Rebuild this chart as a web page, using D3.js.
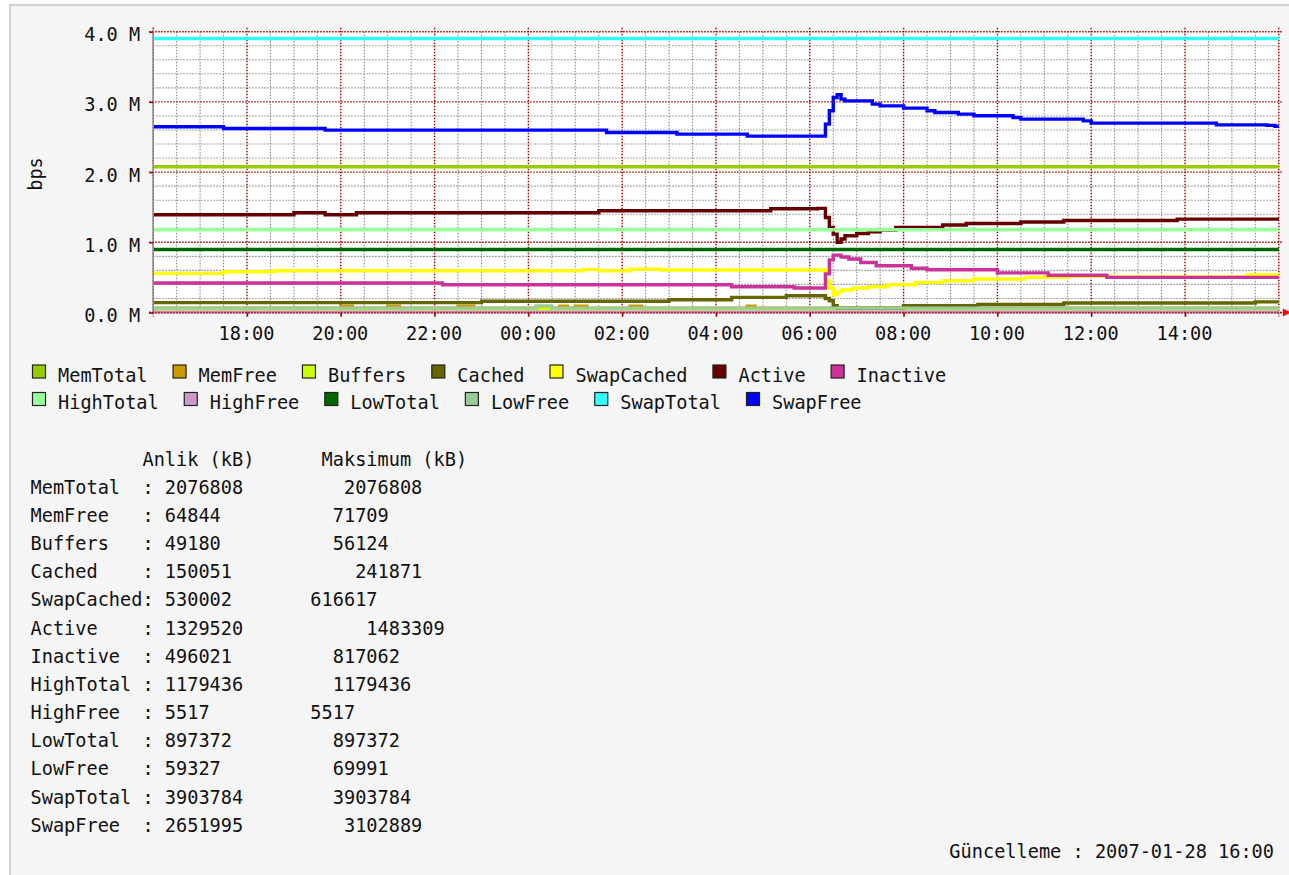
<!DOCTYPE html>
<html><head><meta charset="utf-8">
<script src="https://cdn.jsdelivr.net/npm/d3@7"></script>
<style>
html,body{margin:0;padding:0;background:#ffffff;}
svg{display:block;}
text{font-family:"DejaVu Sans Mono",monospace;font-size:18.6px;fill:#111;white-space:pre;}
</style></head><body>
<svg id="c" width="1289" height="875"></svg>
<script>
// ---------------- DATA ----------------
const seriesNames = ["MemTotal","MemFree","Buffers","Cached","SwapCached","Active","Inactive","HighTotal","HighFree","LowTotal","LowFree","SwapTotal","SwapFree"];
const seriesColors = ["#99cc00","#cc9900","#ccff00","#666600","#ffff00","#660000","#cc3399","#99ff99","#cc99cc","#006600","#99cc99","#33ffff","#0000ff"];
const currentKB = [2076808,64844,49180,150051,530002,1329520,496021,1179436,5517,897372,59327,3903784,2651995];
const maximumKB = [2076808,71709,56124,241871,616617,1483309,817062,1179436,5517,897372,69991,3903784,3102889];
const xTickLabels = ["18:00","20:00","22:00","00:00","02:00","04:00","06:00","08:00","10:00","12:00","14:00"];
const yTickValues = [0,1000000,2000000,3000000,4000000];
const updated = "2007-01-28 16:00";

// time series (time of day, kB); values hold until the next time (step)
const memTotal   = [["16:00",2076808]];
const memFree    = [["16:00",62000],["20:00",90000],["20:15",62000],["21:00",90000],["21:15",62000],["22:30",90000],["22:50",62000],["00:40",90000],["00:50",62000],["01:00",90000],["01:15",62000],["02:10",90000],["02:25",62000],["04:40",90000],["04:50",62000]];
const buffers    = [["16:00",50000]];
const cached     = [["16:00",140000],["23:00",160000],["03:00",182000],["04:20",215000],["05:30",239000],["06:20",200000],["06:25",168000],["06:30",97000],["06:35",60000],["08:00",97000],["09:35",115000],["11:25",135000],["15:30",152000]];
const swapCached = [["16:00",557000],["17:30",581000],["18:35",595000],["01:10",614000],["01:30",595000],["02:10",616000],["02:50",605000],["06:20",453000],["06:25",350000],["06:30",253000],["06:35",290000],["06:40",320000],["06:55",349000],["07:15",367000],["07:40",396000],["08:15",428000],["08:50",453000],["09:30",477000],["10:35",500000],["11:30",515000],["12:20",505000],["15:20",535000]];
const active     = [["16:00",1392000],["19:00",1421000],["19:40",1392000],["20:20",1421000],["01:30",1449000],["05:10",1477000],["06:10",1483000],["06:20",1354000],["06:25",1211000],["06:30",1117000],["06:35",1000000],["06:40",1046000],["06:45",1093000],["07:00",1126000],["07:15",1150000],["07:30",1175000],["07:50",1211000],["08:50",1246000],["09:20",1268000],["10:30",1290000],["11:25",1310000],["13:50",1330000]];
const inactive   = [["16:00",420000],["22:10",396000],["04:20",367000],["05:40",349000],["06:20",550000],["06:25",750000],["06:30",817000],["06:40",790000],["06:50",762000],["07:05",713000],["07:25",666000],["08:10",630000],["08:30",610000],["10:00",565000],["11:05",530000],["12:20",500000]];
const highTotal  = [["16:00",1179436]];
const highFree   = [["16:00",5517]];
const lowTotal   = [["16:00",897372]];
const lowFree    = [["16:00",62000],["00:10",95000],["00:30",62000]];
const swapTotal  = [["16:00",3903784]];
const swapFree   = [["16:00",2645000],["17:30",2621000],["19:40",2598000],["01:40",2564000],["03:10",2541000],["04:40",2512000],["06:20",2683000],["06:25",2873000],["06:30",3062000],["06:35",3103000],["06:40",3039000],["06:45",3015000],["07:20",2968000],["07:30",2944000],["08:00",2911000],["08:30",2873000],["08:40",2849000],["09:10",2826000],["09:30",2802000],["10:20",2778000],["10:30",2754000],["11:50",2730000],["12:00",2697000],["14:40",2673000],["15:45",2666000],["15:55",2652000]];
const seriesData = [memTotal,memFree,buffers,cached,swapCached,active,inactive,highTotal,highFree,lowTotal,lowFree,swapTotal,swapFree];

// ---------------- LAYOUT ----------------
const start = new Date(2007,0,27,16,0), end = new Date(2007,0,28,16,0);
function parseT(s){ const [h,m]=s.split(":").map(Number); return new Date(2007,0,h>=16?27:28,h,m); }

const svg = d3.select("#c");
svg.append("rect").attr("x",10).attr("y",5).attr("width",1300).attr("height",900)
  .attr("fill","#f5f5f5").attr("stroke","#d2d2d2").attr("stroke-width",2);

const x = d3.scaleTime().domain([start,end]).range([153.2,1278.8]);
const y = d3.scaleLinear().domain([0,4000000]).range([312.5,31.7]);
const [X0,X1] = x.range(), [Y0,Y1] = y.range();

svg.append("rect").attr("x",X0).attr("y",Y1).attr("width",X1-X0).attr("height",Y0-Y1).attr("fill","#fff");

// minor grid
const gGrid = svg.append("g");
const minorYs = y.ticks(20).filter(v=>v%1000000!==0);
const minorXs = d3.timeMinute.every(30).range(start,end).filter(d=>!(d.getMinutes()===0 && d.getHours()%2===0));
gGrid.selectAll(".mny").data(minorYs).join("line")
  .attr("x1",X0).attr("x2",X1).attr("y1",d=>y(d)).attr("y2",d=>y(d))
  .attr("stroke","#8a8a8a").attr("stroke-width",1.1).attr("stroke-dasharray","1.5,1.5");
gGrid.selectAll(".mnx").data(minorXs).join("line")
  .attr("x1",d=>x(d)).attr("x2",d=>x(d)).attr("y1",Y1).attr("y2",Y0)
  .attr("stroke","#8a8a8a").attr("stroke-width",1.1).attr("stroke-dasharray","1.5,1.5");
// major grid
const majorXs = d3.timeHour.every(2).range(start,new Date(+end+1));
gGrid.selectAll(".mjy").data(yTickValues).join("line")
  .attr("x1",X0-4).attr("x2",X1+4).attr("y1",d=>y(d)).attr("y2",d=>y(d))
  .attr("stroke","#990000").attr("stroke-width",1.4).attr("stroke-dasharray","1.5,1.5");
gGrid.selectAll(".mjx").data(majorXs).join("line")
  .attr("x1",d=>x(d)).attr("x2",d=>x(d)).attr("y1",Y1-4).attr("y2",Y0+4)
  .attr("stroke","#990000").attr("stroke-width",1.4).attr("stroke-dasharray","1.5,1.5");

// series lines
const line = d3.line().x(d=>x(d.t)).y(d=>y(d.v)).curve(d3.curveStepAfter);
const gLines = svg.append("g");
seriesData.forEach((arr,i)=>{
  const pts = arr.map(([t,v])=>({t:parseT(t),v}));
  pts.push({t:end,v:pts[pts.length-1].v});
  gLines.append("path").datum(pts).attr("d",line)
    .attr("fill","none").attr("stroke",seriesColors[i]).attr("stroke-width",3.4);
});

// axes
svg.append("line").attr("x1",X0).attr("x2",X0).attr("y1",Y1-2).attr("y2",Y0)
  .attr("stroke","#8c8c8c").attr("stroke-width",1.5);
svg.append("line").attr("x1",X0-4).attr("x2",X1+4).attr("y1",Y0).attr("y2",Y0)
  .attr("stroke","#990000").attr("stroke-width",1.4).attr("stroke-dasharray","1.5,1.5");
svg.append("path").attr("d",`M${X1+4},${Y0-4}L${X1+12},${Y0}L${X1+4},${Y0+4}Z`).attr("fill","#ff0000");

const yAxis = d3.axisLeft(y).tickValues(yTickValues).tickSize(4).tickPadding(9)
  .tickFormat(d=>(d/1000000).toFixed(1)+" M");
const gy = svg.append("g").attr("transform",`translate(${X0},0)`).call(yAxis);
gy.select(".domain").remove();
gy.selectAll(".tick line").attr("stroke","#990000").attr("stroke-width",1.5);
gy.selectAll(".tick text").attr("y",3);

const xTickDates = xTickLabels.map(parseT);
const xAxis = d3.axisBottom(x).tickValues(xTickDates).tickSize(4).tickPadding(9.8)
  .tickFormat(d3.timeFormat("%H:%M"));
const gx = svg.append("g").attr("transform",`translate(0,${Y0})`).call(xAxis);
gx.select(".domain").remove();
gx.selectAll(".tick line").attr("stroke","#990000").attr("stroke-width",1.5);
gx.selectAll(".tick text").attr("x",-1);

svg.append("text").attr("transform","translate(41.5,174) rotate(-90)").attr("text-anchor","middle").text("bps");

// legend
const legendRows = [seriesNames.slice(0,7), seriesNames.slice(7)];
const legendBase = [381.5, 409];
legendRows.forEach((row,r)=>{
  let cx = 32;
  row.forEach(name=>{
    const i = seriesNames.indexOf(name);
    svg.append("rect").attr("x",cx+0.5).attr("y",legendBase[r]-16.5).attr("width",13).attr("height",13)
      .attr("fill",seriesColors[i]).attr("stroke","#222").attr("stroke-width",1.2);
    const t = svg.append("text").attr("x",cx+26).attr("y",legendBase[r]).text(name);
    cx = cx + 26 + t.node().getComputedTextLength() + 25;
  });
});

// table
const maxIndent = [3,2,2,4,0,5,2,2,0,2,2,2,3];
const tx = 30.5, rowH = 28.18, headBase = 465.5;
svg.append("text").attr("x",tx).attr("y",headBase).attr("xml:space","preserve")
  .text(" ".repeat(10)+"Anlik (kB)"+" ".repeat(6)+"Maksimum (kB)");
seriesNames.forEach((name,i)=>{
  const s = (name.length<10? name.padEnd(10) : name) + ": " + String(currentKB[i]).padEnd(13)
          + " ".repeat(maxIndent[i]) + String(maximumKB[i]);
  svg.append("text").attr("x",tx).attr("y",headBase+rowH*(i+1)).attr("xml:space","preserve").text(s);
});

svg.append("text").attr("x",1274).attr("y",858.3).attr("text-anchor","end")
  .attr("xml:space","preserve").text("Güncelleme : "+updated);
</script>
</body></html>
